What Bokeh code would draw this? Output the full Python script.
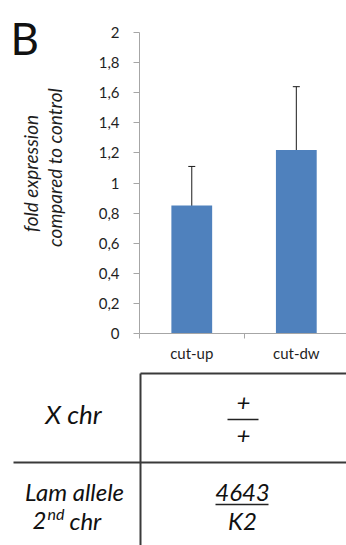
import math
from bokeh.plotting import figure
from bokeh.models import (Range1d, FixedTicker, ColumnDataSource, Whisker, TeeHead)
from bokeh.layouts import column, row
from bokeh.core.properties import value
from bokeh.embed import file_html
from bokeh.resources import INLINE

# ---- data ----
categories = ["cut-up", "cut-dw"]
fold_values = [0.85, 1.22]
err_low = [0.59, 0.80]
err_high = [1.11, 1.64]
y_ticks = [0, 0.2, 0.4, 0.6, 0.8, 1.0, 1.2, 1.4, 1.6, 1.8, 2.0]
y_tick_labels = ["0", "0,2", "0,4", "0,6", "0,8", "1", "1,2", "1,4", "1,6", "1,8", "2"]
y_label_lines = ["fold expression", "compared to control"]
panel_letter = "B"

row_labels = ["X chr", "Lam allele"]
x_chr_top, x_chr_bottom = "+", "+"
lam_top, lam_bottom = "4643", "K2"

FONT = "Lato"
BLUE = "#4f81bd"
AXIS_GRAY = "#a6a6a6"
TXT = "#1f1f1f"

# ---- left strip: panel letter + y-axis title ----
LW = 70
f_left = figure(width=LW, height=370, output_backend="svg", toolbar_location=None,
                x_range=Range1d(0, LW), y_range=Range1d(370, 0), min_border=0)
f_left.frame_align = False
f_left.outline_line_color = None
f_left.grid.visible = False
f_left.axis.visible = False
f_left.text(x=[10], y=[37], text=[panel_letter], text_font=value(FONT), text_font_size="44px",
            text_color="#111111", text_align="left", text_baseline="middle")
f_left.text(x=[30, 54], y=[173, 167], text=y_label_lines, angle=math.pi / 2,
            text_font=value(FONT), text_font_style="italic", text_font_size="19px",
            text_color=TXT, text_align="center", text_baseline="middle")

# ---- chart ----
xs = [i + 0.5 for i in range(len(categories))]
src = ColumnDataSource(dict(x=xs, top=fold_values, lo=err_low, hi=err_high))

p = figure(width=346 - LW, height=370, output_backend="svg", toolbar_location=None,
           x_range=Range1d(0, 1.98), y_range=Range1d(0, 2),
           min_border_left=139 - LW, min_border_right=0, min_border_top=32, min_border_bottom=37)
p.frame_align = False
p.outline_line_color = None
p.grid.visible = False
p.background_fill_color = "white"
p.border_fill_color = "white"

p.vbar(x="x", top="top", width=0.39, bottom=0, source=src, fill_color=BLUE, line_color=None)
p.add_layout(Whisker(base="x", lower="lo", upper="hi", source=src, line_color="#1a1a1a", line_width=1,
                     upper_head=TeeHead(size=7, line_color="#1a1a1a", line_width=1),
                     lower_head=TeeHead(size=7, line_color="#1a1a1a", line_width=1)))

ya = p.yaxis[0]
ya.ticker = FixedTicker(ticks=y_ticks, minor_ticks=[])
ya.major_label_overrides = {t: l for t, l in zip(y_ticks, y_tick_labels)}
ya.axis_line_color = AXIS_GRAY
ya.major_tick_line_color = AXIS_GRAY
ya.major_tick_out = 6
ya.major_tick_in = 0
ya.major_label_standoff = 14
ya.major_label_text_font = FONT
ya.major_label_text_font_size = "15px"
ya.major_label_text_color = TXT

xa = p.xaxis[0]
xa.ticker = FixedTicker(ticks=xs, minor_ticks=[0, 1, 2])
xa.major_label_overrides = {x: c for x, c in zip(xs, categories)}
xa.axis_line_color = AXIS_GRAY
xa.major_tick_line_color = None
xa.major_tick_out = 0
xa.major_tick_in = 0
xa.minor_tick_line_color = AXIS_GRAY
xa.minor_tick_out = 5
xa.minor_tick_in = 0
xa.major_label_standoff = 5
xa.major_label_text_font = FONT
xa.major_label_text_font_size = "15px"
xa.major_label_text_color = TXT

# ---- genotype table ----
t = figure(width=346, height=175, output_backend="svg", toolbar_location=None,
           x_range=Range1d(0, 346), y_range=Range1d(175, 0), min_border=0)
t.frame_align = False
t.outline_line_color = None
t.grid.visible = False
t.axis.visible = False
LINE = "#3a3a3a"
t.segment(x0=[140, 140, 13], y0=[3, 3, 92], x1=[140, 346, 346], y1=[175, 3, 92],
          line_color=LINE, line_width=2)
t.segment(x0=[227, 215], y0=[49, 134], x1=[258, 268], y1=[49, 134], line_color="#222222", line_width=1.5)

tf = dict(text_font=value(FONT), text_font_style="italic", text_color="#111111", text_baseline="middle")
t.text(x=[73], y=[43], text=[row_labels[0]], text_align="center", text_font_size="26px", **tf)
t.text(x=[74], y=[121], text=[row_labels[1]], text_align="center", text_font_size="24px", **tf)
t.text(x=[46], y=[150], text=["2"], text_align="right", text_font_size="24px", **tf)
t.text(x=[47], y=[143], text=["nd"], text_align="left", text_font_size="16px", **tf)
t.text(x=[69], y=[150], text=["chr"], text_align="left", text_font_size="24px", **tf)
t.text(x=[243, 243], y=[32, 65], text=[x_chr_top, x_chr_bottom], text_align="center",
       text_font_size="24px", **tf)
t.text(x=[242], y=[122], text=[lam_top], text_align="center", text_font_size="24px", **tf)
t.text(x=[242], y=[150], text=[lam_bottom], text_align="center", text_font_size="24px", **tf)

layout = column(row(f_left, p, spacing=0), t, spacing=0)
open("out.html", "w").write(file_html(layout, INLINE))
